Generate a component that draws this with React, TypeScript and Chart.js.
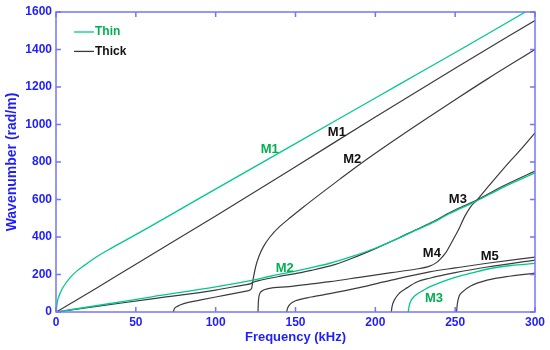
import React, { useEffect, useRef } from "react";
import { Chart, registerables } from "chart.js";

Chart.register(...registerables);

// ---- Data (frequency kHz, wavenumber rad/m) ----
// Thin plate
const thinM1F = [0, 1, 2, 4, 6, 9, 13, 18, 25, 35, 48, 60, 90, 140, 175, 215, 255, 294];
const thinM1K = [0, 60, 88, 125, 152, 185, 218, 250, 292, 342, 403, 461, 607, 850, 1020, 1214, 1408, 1600];

const thinM2F = [0, 30, 60, 100, 121, 135, 150, 160, 171.5, 185, 200, 215, 225, 235, 247, 263, 280, 300];
const thinM2K = [0, 40, 81, 134, 166, 192, 218, 237, 260, 295, 340, 395, 435, 473, 527, 590, 665, 742];

const thinM3F = [220.6, 221, 222, 224, 226, 230, 234, 240, 251, 260, 272, 285, 300];
const thinM3K = [0, 25, 55, 80, 95, 115, 134, 155, 187, 207, 232, 248, 259];

// Thick plate
const thickM1F = [0, 5, 10, 25, 50, 100, 150, 200, 250, 300];
const thickM1K = [0, 24, 49, 125, 255, 512, 775, 1040, 1300, 1555];

const thickAF = [0, 30, 60, 100, 118, 121.5, 124, 127, 140, 150, 160, 175, 185, 200, 215, 225, 235, 247, 256, 263, 280, 300];
const thickAK = [0, 35, 70, 117, 145, 150, 160, 167, 190, 205, 222, 254, 285, 338, 396, 437, 477, 532, 568, 595, 672, 752];

const thickBF = [73.5, 74, 76, 80, 90, 100, 111, 120, 122.5, 123, 123.8, 125, 127, 130, 134, 140, 147, 155, 165, 178, 191, 210, 230, 250, 270, 300];
const thickBK = [0, 15, 30, 45, 63, 80, 98, 113, 125, 150, 190, 240, 295, 350, 400, 455, 505, 560, 626, 710, 792, 905, 1020, 1132, 1242, 1400];

const thickCF = [126.5, 126.8, 127.5, 129, 133, 146, 160, 171.5, 190, 210, 225, 234, 238, 241, 244, 248, 252, 256, 260, 263.4, 270, 278, 285, 292, 300];
const thickCK = [0, 60, 95, 112, 125, 135, 150, 162, 185, 210, 228, 245, 262, 285, 315, 375, 437, 510, 565, 595, 662, 742, 810, 875, 955];

const thickDF = [144.5, 145, 147, 150, 160, 171.5, 190, 210, 234, 250, 270, 300];
const thickDK = [0, 20, 45, 60, 80, 98, 130, 170, 214, 235, 260, 293];

const thickEF = [210, 210.5, 212, 215, 220, 226, 234, 250, 270, 300];
const thickEK = [0, 30, 65, 100, 130, 160, 180, 210, 240, 277];

const thickFF = [250.9, 251.3, 252.5, 255, 260, 270, 285, 300];
const thickFK = [0, 40, 85, 110, 140, 170, 192, 207];

// Tick values
const xTicks = [0, 50, 100, 150, 200, 250, 300];
const yTicks = [0, 200, 400, 600, 800, 1000, 1200, 1400, 1600];

// Curve labels
const labelTexts = ["M1", "M1", "M2", "M2", "M3", "M4", "M5", "M3"];
const labelF = [133.9, 175.9, 185.5, 143.3, 251.7, 235.4, 271.7, 236.7];
const labelK = [865, 956, 812, 234, 602, 314, 298, 73];
const labelThin = [true, false, false, true, false, false, false, true];

const GREEN = "#00c98d";
const GREEN_TEXT = "#00b050";
const BLACK = "#3c3c3c";
const BLUE = "#1e1eff";
const AXIS_BLUE = "#7474ff";
const FONT = "'Liberation Sans', Arial, sans-serif";

const zip = (f: number[], k: number[]) => f.map((x, i) => ({ x, y: k[i] }));

export default function App() {
  const ref = useRef<HTMLCanvasElement | null>(null);

  useEffect(() => {
    document.body.style.margin = "0";
    const canvas = ref.current!;
    const mk = (label: string, f: number[], k: number[], thin: boolean) => ({
      label,
      data: zip(f, k),
      borderColor: thin ? GREEN : BLACK,
      borderWidth: thin ? 1.3 : 1.2,
      pointRadius: 0,
      fill: false,
      cubicInterpolationMode: "monotone" as const,
    });

    const decor = {
      id: "decor",
      afterDatasetsDraw(chart: any) {
        const { ctx, chartArea: a, scales } = chart;
        const xs = scales.x;
        const ys = scales.y;
        ctx.save();
        ctx.strokeStyle = AXIS_BLUE;
        ctx.lineWidth = 1.5;
        ctx.strokeRect(a.left, a.top, a.right - a.left, a.bottom - a.top);
        const tl = 5;
        ctx.beginPath();
        xTicks.forEach((v) => {
          const px = xs.getPixelForValue(v);
          ctx.moveTo(px, a.bottom);
          ctx.lineTo(px, a.bottom - tl);
          ctx.moveTo(px, a.top);
          ctx.lineTo(px, a.top + tl);
        });
        yTicks.forEach((v) => {
          const py = ys.getPixelForValue(v);
          ctx.moveTo(a.left, py);
          ctx.lineTo(a.left + tl, py);
          ctx.moveTo(a.right, py);
          ctx.lineTo(a.right - tl, py);
        });
        ctx.stroke();

        ctx.font = `bold 13px ${FONT}`;
        ctx.textAlign = "center";
        ctx.textBaseline = "middle";
        labelTexts.forEach((t, i) => {
          ctx.fillStyle = labelThin[i] ? GREEN_TEXT : "#111";
          ctx.fillText(t, xs.getPixelForValue(labelF[i]), ys.getPixelForValue(labelK[i]));
        });

        const entries = [
          { text: "Thin", line: GREEN, color: GREEN_TEXT },
          { text: "Thick", line: BLACK, color: "#111" },
        ];
        ctx.font = `bold 12px ${FONT}`;
        ctx.textAlign = "left";
        entries.forEach((e, i) => {
          const y = a.top + 20 + i * 19.4;
          ctx.strokeStyle = e.line;
          ctx.lineWidth = 1.3;
          ctx.beginPath();
          ctx.moveTo(a.left + 18, y);
          ctx.lineTo(a.left + 38, y);
          ctx.stroke();
          ctx.fillStyle = e.color;
          ctx.fillText(e.text, a.left + 39, y);
        });
        ctx.restore();
      },
    };

    const tickFont = { family: FONT, size: 12, weight: "bold" };
    const chart = new Chart(canvas, {
      type: "line",
      data: {
        datasets: [
          mk("Thin", thinM1F, thinM1K, true),
          mk("Thin", thinM2F, thinM2K, true),
          mk("Thin", thinM3F, thinM3K, true),
          mk("Thick", thickM1F, thickM1K, false),
          mk("Thick", thickAF, thickAK, false),
          mk("Thick", thickBF, thickBK, false),
          mk("Thick", thickCF, thickCK, false),
          mk("Thick", thickDF, thickDK, false),
          mk("Thick", thickEF, thickEK, false),
          mk("Thick", thickFF, thickFK, false),
        ],
      },
      options: {
        responsive: false,
        animation: false,
        devicePixelRatio: 1,
        layout: { padding: { top: 12, right: 15, left: 0, bottom: 0 } },
        plugins: { legend: { display: false }, tooltip: { enabled: false } },
        scales: {
          x: {
            type: "linear",
            min: 0,
            max: 300,
            afterFit: (s: any) => {
              s.height = 38;
            },
            afterBuildTicks: (s: any) => {
              s.ticks = xTicks.map((v) => ({ value: v }));
            },
            grid: { display: false, drawTicks: false },
            border: { display: false },
            ticks: {
              color: BLUE,
              font: tickFont,
              padding: 3,
              maxRotation: 0,
              callback: (v: any) => String(v),
            },
            title: {
              display: true,
              text: "Frequency (kHz)",
              color: BLUE,
              font: { family: FONT, size: 13, weight: "bold" },
              padding: { top: 0, bottom: 5 },
            },
          },
          y: {
            type: "linear",
            min: 0,
            max: 1600,
            afterFit: (s: any) => {
              s.width = 56;
            },
            afterBuildTicks: (s: any) => {
              s.ticks = yTicks.map((v) => ({ value: v }));
            },
            grid: { display: false, drawTicks: false },
            border: { display: false },
            ticks: {
              color: BLUE,
              font: tickFont,
              padding: 4,
              callback: (v: any) => String(v),
            },
            title: {
              display: true,
              text: "Wavenumber (rad/m)",
              color: BLUE,
              font: { family: FONT, size: 14, weight: "bold" },
              padding: { top: 4, bottom: 0 },
            },
          },
        },
      },
      plugins: [decor],
    } as any);
    return () => chart.destroy();
  }, []);

  return (
    <div style={{ width: 550, height: 350 }}>
      <canvas ref={ref} width={550} height={350} style={{ display: "block" }} />
    </div>
  );
}
